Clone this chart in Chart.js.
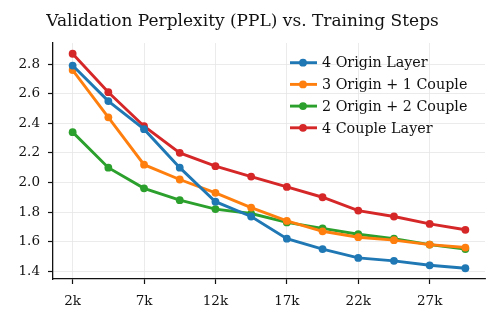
<!DOCTYPE html>
<html>
<head>
<meta charset="utf-8">
<script src="https://cdn.jsdelivr.net/npm/chart.js@4.4.0/dist/chart.umd.min.js"></script>
<style>
  html, body { margin: 0; padding: 0; background: #fff; }
  #wrap { width: 499px; height: 323px; }
</style>
</head>
<body>
<div id="wrap"><canvas id="chart" width="499" height="323"></canvas></div>
<script>
const steps = [2000, 4500, 7000, 9500, 12000, 14500, 17000, 19500, 22000, 24500, 27000, 29500];
const xTickValues = [2000, 7000, 12000, 17000, 22000, 27000];
const xTickLabels = ['2k', '7k', '12k', '17k', '22k', '27k'];
const yTickValues = [1.4, 1.6, 1.8, 2.0, 2.2, 2.4, 2.6, 2.8];

const seriesNames = ['4 Origin Layer', '3 Origin + 1 Couple', '2 Origin + 2 Couple', '4 Couple Layer'];
const origin4 = [2.79, 2.55, 2.36, 2.10, 1.87, 1.77, 1.62, 1.55, 1.49, 1.47, 1.44, 1.42];
const origin3couple1 = [2.76, 2.44, 2.12, 2.02, 1.93, 1.83, 1.74, 1.67, 1.63, 1.61, 1.58, 1.56];
const origin2couple2 = [2.34, 2.10, 1.96, 1.88, 1.82, 1.79, 1.73, 1.69, 1.65, 1.62, 1.58, 1.55];
const couple4 = [2.87, 2.61, 2.38, 2.20, 2.11, 2.04, 1.97, 1.90, 1.81, 1.77, 1.72, 1.68];

const colors = ['#1f77b4', '#ff7f0e', '#2ca02c', '#d62728'];
const FONT = "'DejaVu Serif', serif";

function makeSet(label, values, color) {
    return {
        label: label,
        data: steps.map((s, i) => ({ x: s, y: values[i] })),
        borderColor: color,
        backgroundColor: color,
        borderWidth: 2.9,
        pointRadius: 3.9,
        pointBorderWidth: 0,
        pointHoverRadius: 3.9,
        tension: 0
    };
}

// legend drawn inside the plot, top right, like matplotlib
const innerLegend = {
    id: 'innerLegend',
    afterDatasetsDraw(chart) {
        const ctx = chart.ctx;
        const x0 = 290, y0 = 62.7, gap = 21.7;
        ctx.save();
        ctx.font = '14.3px ' + FONT;
        ctx.textBaseline = 'middle';
        chart.data.datasets.forEach((ds, i) => {
            const y = y0 + i * gap;
            ctx.strokeStyle = ds.borderColor;
            ctx.lineWidth = 2.9;
            ctx.beginPath();
            ctx.moveTo(x0, y);
            ctx.lineTo(x0 + 27, y);
            ctx.stroke();
            ctx.fillStyle = ds.borderColor;
            ctx.beginPath();
            ctx.arc(x0 + 13, y, 3.9, 0, Math.PI * 2);
            ctx.fill();
            ctx.fillStyle = '#111';
            ctx.fillText(ds.label, x0 + 32, y + 1);
        });
        ctx.restore();
    }
};

const ctx = document.getElementById('chart').getContext('2d');
new Chart(ctx, {
    type: 'line',
    data: {
        datasets: [
            makeSet(seriesNames[0], origin4, colors[0]),
            makeSet(seriesNames[1], origin3couple1, colors[1]),
            makeSet(seriesNames[2], origin2couple2, colors[2]),
            makeSet(seriesNames[3], couple4, colors[3])
        ]
    },
    options: {
        responsive: false,
        animation: false,
        layout: { padding: { left: 0, right: 14, top: 0, bottom: 0 } },
        plugins: {
            legend: { display: false },
            tooltip: { enabled: false },
            title: {
                display: true,
                text: 'Validation Perplexity (PPL) vs. Training Steps',
                color: '#111',
                font: { family: FONT, size: 17, weight: 'normal' },
                padding: { top: 11, bottom: 11.6 }
            }
        },
        scales: {
            x: {
                type: 'linear',
                min: 625,
                max: 30875,
                afterBuildTicks(scale) {
                    scale.ticks = xTickValues.map(v => ({ value: v }));
                },
                afterFit(scale) { scale.height = 44; },
                ticks: {
                    color: '#111',
                    font: { family: FONT, size: 13.5 },
                    padding: 9,
                    maxRotation: 0,
                    callback: (v) => xTickLabels[xTickValues.indexOf(v)]
                },
                grid: { color: '#e6e6e6', lineWidth: 0.8, tickColor: '#111', tickLength: 5, tickWidth: 1.2 },
                border: { color: '#111', width: 1.3 }
            },
            y: {
                min: 1.3475,
                max: 2.9425,
                afterBuildTicks(scale) {
                    scale.ticks = yTickValues.map(v => ({ value: v }));
                },
                afterFit(scale) { scale.width = 53; },
                ticks: {
                    color: '#111',
                    font: { family: FONT, size: 13.5 },
                    padding: 8,
                    callback: (v) => v.toFixed(1)
                },
                grid: { color: '#e6e6e6', lineWidth: 0.8, tickColor: '#111', tickLength: 5, tickWidth: 1.2 },
                border: { color: '#111', width: 1.3 }
            }
        }
    },
    plugins: [innerLegend]
});
</script>
</body>
</html>
